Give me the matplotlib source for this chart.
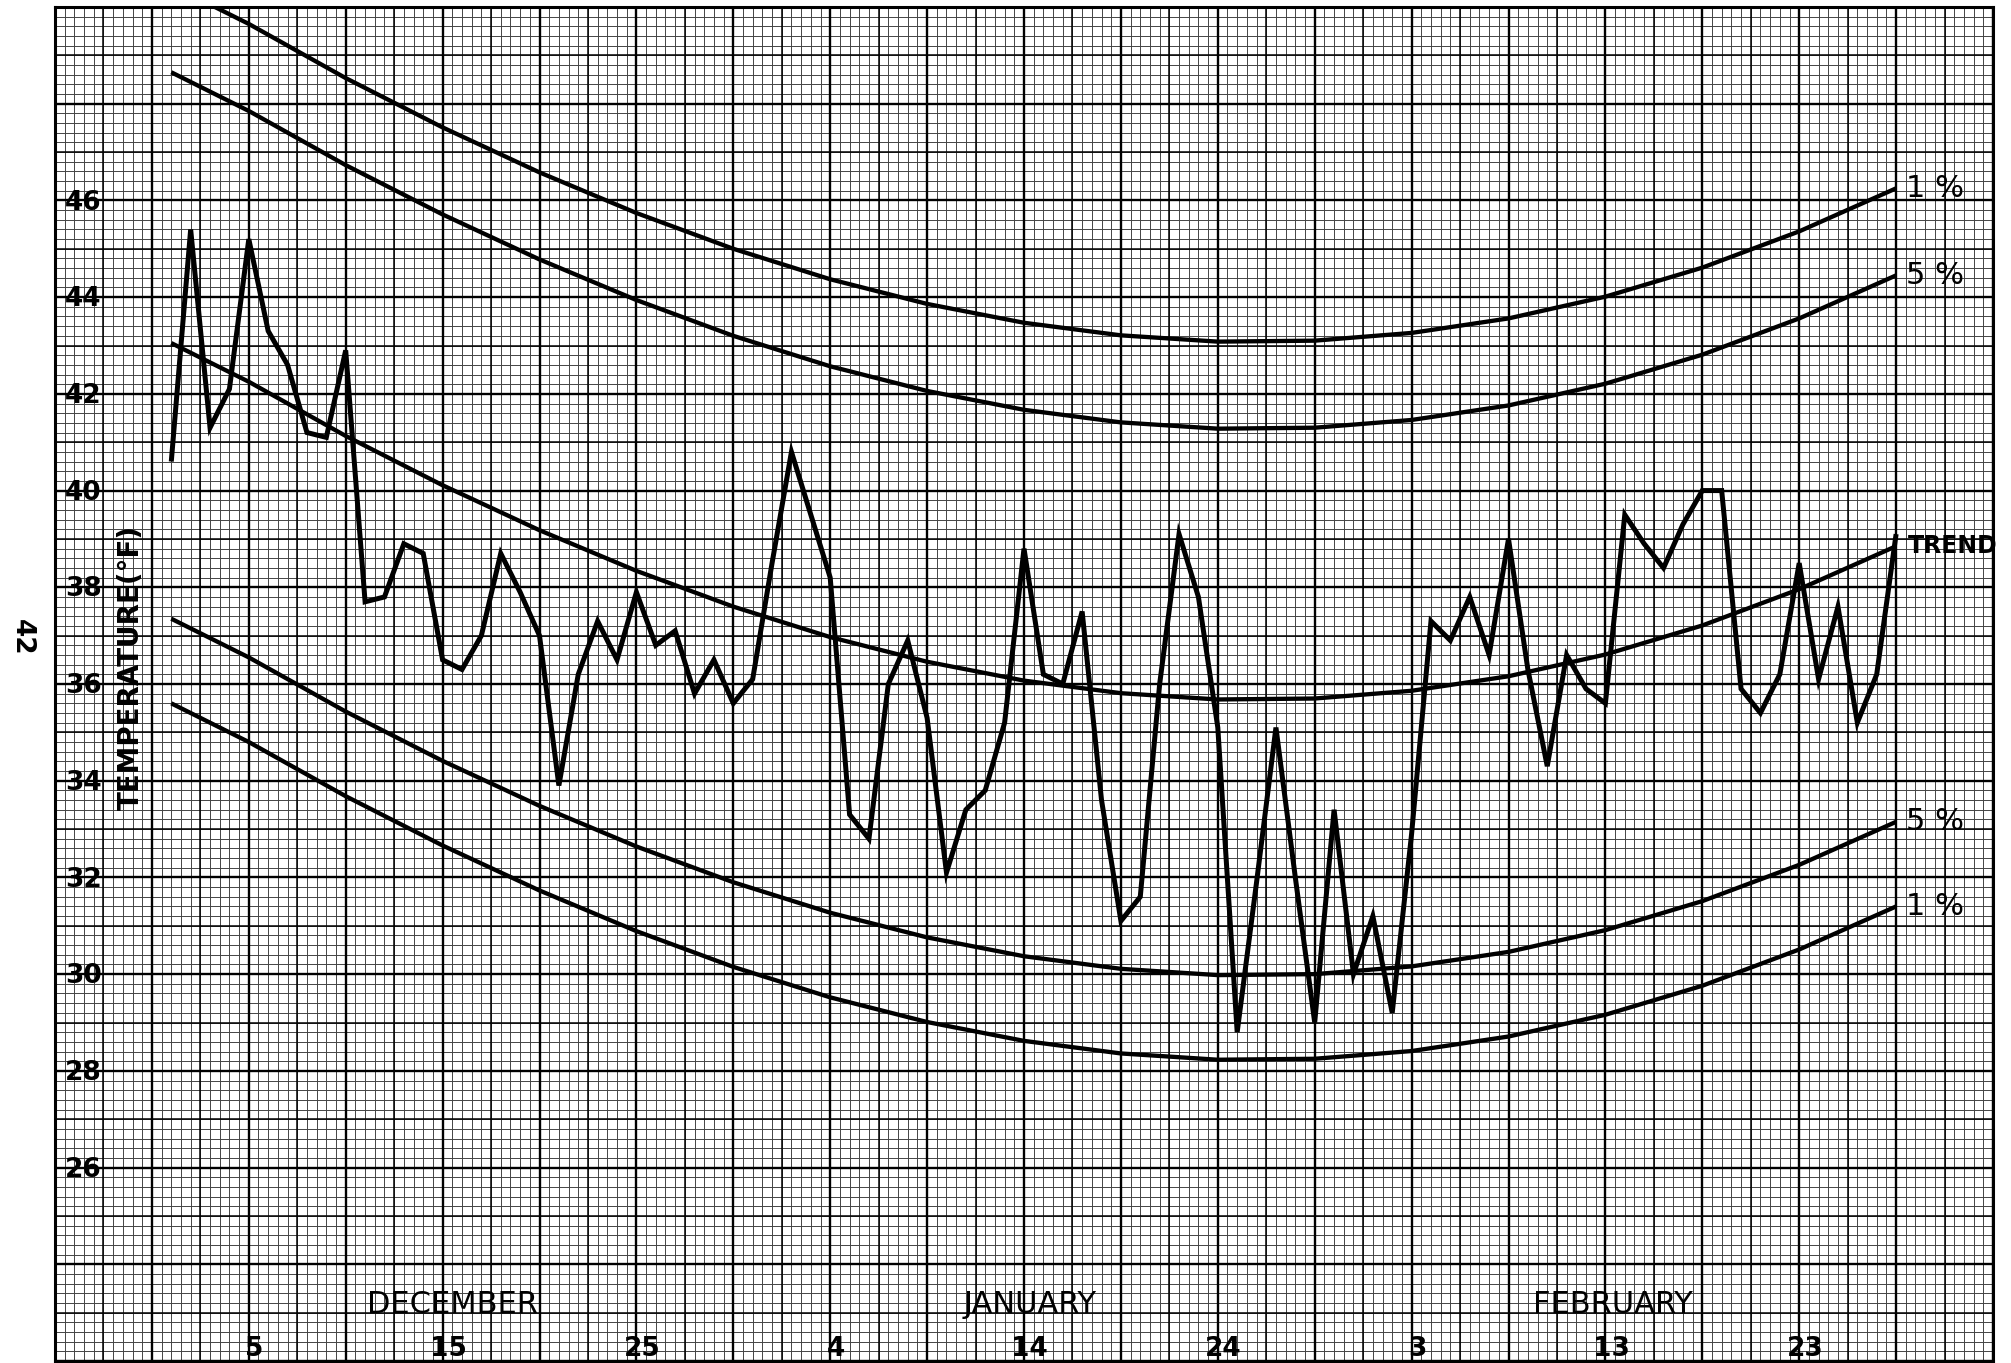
import numpy as np
import matplotlib
matplotlib.use("Agg")
import matplotlib.pyplot as plt

# daily temperature, day 1 = Dec 1, day 90 = Feb 28
days = np.arange(1, 91)
temps = [40.6, 45.4, 41.3, 42.1, 45.2, 43.3, 42.6, 41.2, 41.1, 42.9,
         37.7, 37.8, 38.9, 38.7, 36.5, 36.3, 37.0, 38.7, 37.9, 37.0,
         33.9, 36.2, 37.3, 36.5, 37.9, 36.8, 37.1, 35.8, 36.5, 35.6,
         36.1, 38.5, 40.8, 39.5, 38.2, 33.3, 32.8, 36.0, 36.9, 35.3,
         32.1, 33.4, 33.8, 35.2, 38.8, 36.2, 36.0, 37.5, 33.6, 31.1,
         31.6, 36.0, 39.1, 37.8, 35.1, 28.8, 31.9, 35.1, 32.0, 29.0,
         33.4, 30.0, 31.2, 29.2, 32.9, 37.3, 36.9, 37.8, 36.6, 39.0,
         36.3, 34.3, 36.6, 35.9, 35.6, 39.5, 38.9, 38.4, 39.3, 40.0,
         40.0, 35.9, 35.4, 36.2, 38.5, 36.1, 37.6, 35.2, 36.2, 39.1]

# trend and limit curves read at the heavy grid lines
curve_days = [1, 5, 10, 15, 20, 25, 30, 35, 40, 45, 50, 55, 60, 65, 70, 75, 80, 85, 90]
trend = [43.05, 42.25, 41.13, 40.11, 39.18, 38.34, 37.60, 36.97, 36.46, 36.07,
         35.81, 35.68, 35.70, 35.86, 36.16, 36.61, 37.21, 37.96, 38.85]
upper_1 = [50.45, 49.65, 48.53, 47.51, 46.58, 45.74, 45.00, 44.37, 43.86, 43.47,
           43.21, 43.08, 43.10, 43.26, 43.56, 44.01, 44.61, 45.36, 46.25]
upper_5 = [48.65, 47.85, 46.73, 45.71, 44.78, 43.94, 43.20, 42.57, 42.06, 41.67,
           41.41, 41.28, 41.30, 41.46, 41.76, 42.21, 42.81, 43.56, 44.45]
lower_5 = [37.35, 36.55, 35.43, 34.41, 33.48, 32.64, 31.90, 31.27, 30.76, 30.37,
           30.11, 29.98, 30.00, 30.16, 30.46, 30.91, 31.51, 32.26, 33.15]
lower_1 = [35.60, 34.80, 33.68, 32.66, 31.73, 30.89, 30.15, 29.52, 29.01, 28.62,
           28.36, 28.23, 28.25, 28.41, 28.71, 29.16, 29.76, 30.51, 31.40]

y_labels = [26, 28, 30, 32, 34, 36, 38, 40, 42, 44, 46]
day_ticks = [5, 15, 25, 35, 45, 55, 65, 75, 85]
day_tick_labels = ["5", "15", "25", "4", "14", "24", "3", "13", "23"]
months = ["DECEMBER", "JANUARY", "FEBRUARY"]
month_pos = [15.5, 45.3, 75.4]

curve_labels = [("1 %", upper_1[-1]), ("5 %", upper_5[-1]), ("TREND", trend[-1]),
                ("5 %", lower_5[-1]), ("1 %", lower_1[-1])]

W, H = 2011, 1363
fig = plt.figure(figsize=(W / 100, H / 100), dpi=100)
ax = fig.add_axes([55 / W, 2 / H, (1993 - 55) / W, (1361 - 7) / H])
ax.set_xlim(-5, 95)
ax.set_ylim(22, 50)
ax.set_xticks([])
ax.set_yticks([])
for s in ax.spines.values():
    s.set_linewidth(2.2)
    s.set_color("black")

# graph paper
xt = ax.get_xaxis_transform()
yt = ax.get_yaxis_transform()
ax.vlines(np.arange(-5, 95.01, 0.5), 0, 1, transform=xt, color="#444444", lw=0.7, zorder=1)
ax.hlines(np.arange(22, 50.01, 0.2), 0, 1, transform=yt, color="#444444", lw=0.7, zorder=1)
ax.vlines(np.arange(-2.5, 95, 5), 0, 1, transform=xt, color="black", lw=1.1, zorder=1)
ax.hlines(np.arange(23, 50, 2), 0, 1, transform=yt, color="black", lw=1.1, zorder=1)
ax.vlines(np.arange(-5, 95.01, 5), 0, 1, transform=xt, color="black", lw=1.7, zorder=1)
ax.hlines(np.arange(22, 50.01, 2), 0, 1, transform=yt, color="black", lw=1.7, zorder=1)

# curves
for band in [upper_1, upper_5, trend, lower_5, lower_1]:
    ax.plot(curve_days, band, color="black", lw=3.1, zorder=3, solid_capstyle="butt")
ax.plot(days, temps, color="black", lw=3.6, zorder=4,
        solid_joinstyle="miter", solid_capstyle="butt")

# labels
for v in y_labels:
    ax.text(-4.5, v - 0.19, str(v), fontsize=19, fontweight="bold",
            ha="left", va="baseline", zorder=5)
for d, lab in zip(day_ticks, day_tick_labels):
    ax.text(d + 0.3, 22.1, lab, fontsize=19, fontweight="bold",
            ha="center", va="baseline", zorder=5)
for m, p in zip(months, month_pos):
    ax.text(p, 23.0, m, fontsize=22, ha="center", va="baseline", zorder=5)
for lab, v in curve_labels:
    if lab == "TREND":
        ax.text(90.6, v, lab, fontsize=17, fontweight="bold", ha="left", va="center",
                zorder=5, clip_on=False)
    else:
        ax.text(90.5, v, lab, fontsize=22, ha="left", va="center", zorder=5, clip_on=False)

ax.text(-1.08, 36.34, "TEMPERATURE(°F)", fontsize=20, fontweight="bold", rotation=90,
        ha="center", va="center", zorder=5)
fig.text(22 / W, 1 - 637 / H, "42", fontsize=19, fontweight="bold", rotation=-90,
         ha="center", va="center")

fig.savefig("out.png", dpi=100, facecolor="white")
